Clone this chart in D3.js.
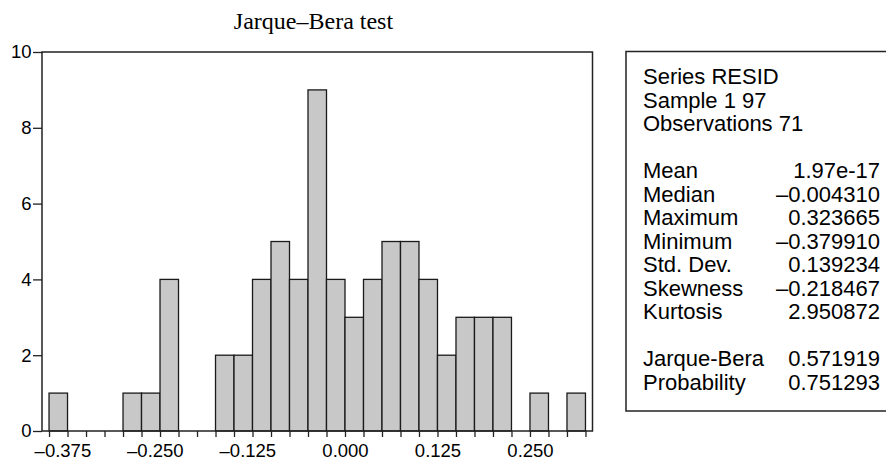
<!DOCTYPE html>
<html>
<head>
<meta charset="utf-8">
<script src="https://cdn.jsdelivr.net/npm/d3@7"></script>
<style>
  body { margin: 0; background: #fff; }
  .axis text { font-family: "Liberation Sans", Arial, sans-serif; font-size: 18.5px; fill: #000; }
  .axis path { display: none; }
  .axis line { stroke: #222; stroke-width: 1.3; }
  .stats text { font-family: "Liberation Sans", Arial, sans-serif; font-size: 22px; fill: #000; }
</style>
</head>
<body>
<div class="chart"></div>
<script>
// histogram bins (lower edge of each bin) and counts
var binLow = [-0.400, -0.375, -0.350, -0.325, -0.300, -0.275, -0.250, -0.225, -0.200, -0.175,
              -0.150, -0.125, -0.100, -0.075, -0.050, -0.025, 0.000, 0.025, 0.050, 0.075,
              0.100, 0.125, 0.150, 0.175, 0.200, 0.225, 0.250, 0.275, 0.300];
var counts = [1, 0, 0, 0, 1, 1, 4, 0, 0, 2,
              2, 4, 5, 4, 9, 4, 3, 4, 5, 5,
              4, 2, 3, 3, 3, 0, 1, 0, 1];
var binWidth = 0.025;
var xEdges = binLow.concat([0.325]);
var xLabels = [-0.375, -0.250, -0.125, 0.000, 0.125, 0.250];
var yTicks = [0, 2, 4, 6, 8, 10];

// statistics box
var headerLines = ["Series RESID", "Sample 1 97", "Observations 71"];
var statNames = ["Mean", "Median", "Maximum", "Minimum", "Std. Dev.", "Skewness", "Kurtosis"];
var statValues = ["1.97e-17", "\u20130.004310", "0.323665", "\u20130.379910", "0.139234", "\u20130.218467", "2.950872"];
var testNames = ["Jarque-Bera", "Probability"];
var testValues = ["0.571919", "0.751293"];

var W = 886, H = 461;
var plot = {left: 42, right: 592.5, top: 52, bottom: 431};

var svg = d3.select(".chart").append("svg")
  .attr("width", W)
  .attr("height", H);

var xScale = d3.scaleLinear().domain([-0.4095, 0.3345]).range([plot.left, plot.right]);
var yScale = d3.scaleLinear().domain([0, 10]).range([plot.bottom, plot.top]);

// title
svg.append("text")
  .attr("x", 313.5)
  .attr("y", 29)
  .attr("text-anchor", "middle")
  .style("font-family", "'Liberation Serif', 'Times New Roman', serif")
  .style("font-size", "24px")
  .text("Jarque\u2013Bera test");

var bins = binLow.map((d, i) => { return {x0: d, x1: d + binWidth, n: counts[i]}; })
  .filter((d) => { return d.n > 0; });

svg.selectAll("rect.bar")
  .data(bins)
  .enter()
  .append("rect")
    .attr("class", "bar")
    .attr("x", (d) => { return xScale(d.x0); })
    .attr("y", (d) => { return yScale(d.n); })
    .attr("width", (d) => { return xScale(d.x1) - xScale(d.x0); })
    .attr("height", (d) => { return yScale(0) - yScale(d.n); })
    .attr("fill", "#c8c8c8")
    .attr("stroke", "#1a1a1a")
    .attr("stroke-width", 1.3);

// frame
svg.append("rect")
  .attr("x", plot.left)
  .attr("y", plot.top)
  .attr("width", plot.right - plot.left)
  .attr("height", plot.bottom - plot.top)
  .attr("fill", "none")
  .attr("stroke", "#222")
  .attr("stroke-width", 1.5);

var fmt = d3.format(".3f");
var xAxis = d3.axisBottom(xScale)
  .tickValues(xEdges)
  .tickSize(6)
  .tickPadding(7)
  .tickFormat((d) => {
    var hit = xLabels.some((v) => { return Math.abs(v - d) < 1e-9; });
    if (!hit) return "";
    return d < 0 ? "\u2013" + fmt(-d) : fmt(d);
  });

svg.append("g")
  .attr("class", "x axis")
  .attr("transform", "translate(0," + plot.bottom + ")")
  .call(xAxis)
  .selectAll("text")
    .attr("dx", (d) => { return d < 0 ? "-0.278em" : 0; });

var yAxis = d3.axisLeft(yScale)
  .tickValues(yTicks)
  .tickSize(9)
  .tickPadding(1.5);

svg.append("g")
  .attr("class", "y axis")
  .attr("transform", "translate(" + plot.left + ",0)")
  .call(yAxis);

// stats box
var box = svg.append("g").attr("class", "stats");
box.append("rect")
  .attr("x", 626)
  .attr("y", 51.5)
  .attr("width", 262)
  .attr("height", 359.5)
  .attr("fill", "none")
  .attr("stroke", "#222")
  .attr("stroke-width", 1.5);

var rowY = (r) => { return 84 + r * 23.5; };
var labelX = 643, valueX = 880;

headerLines.forEach((t, i) => {
  box.append("text").attr("x", labelX).attr("y", rowY(i)).text(t);
});
statNames.forEach((t, i) => {
  box.append("text").attr("x", labelX).attr("y", rowY(i + 4)).text(t);
  box.append("text").attr("x", valueX).attr("y", rowY(i + 4))
    .attr("text-anchor", "end").text(statValues[i]);
});
testNames.forEach((t, i) => {
  box.append("text").attr("x", labelX).attr("y", rowY(i + 12)).text(t);
  box.append("text").attr("x", valueX).attr("y", rowY(i + 12))
    .attr("text-anchor", "end").text(testValues[i]);
});
</script>
</body>
</html>
